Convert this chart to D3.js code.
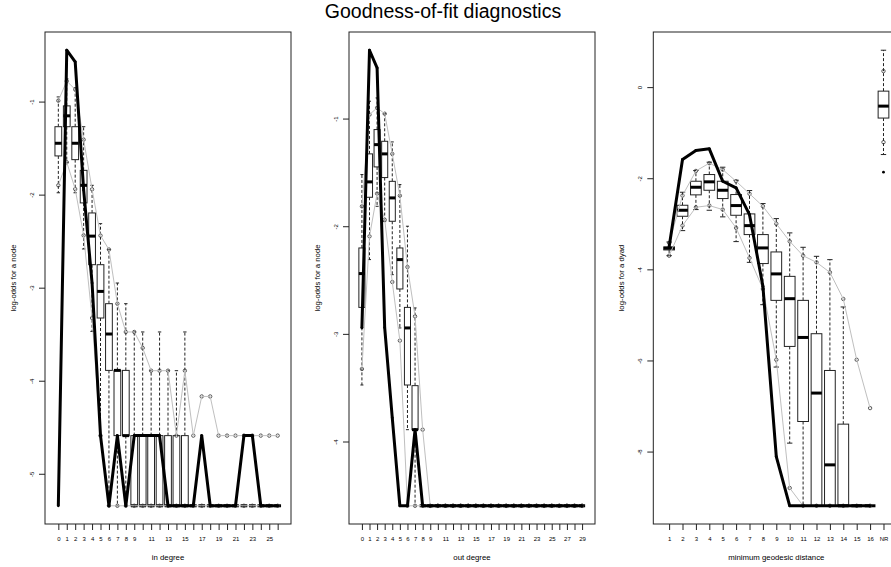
<!DOCTYPE html>
<html lang="en">
<head>
<meta charset="UTF-8">
<title>Goodness-of-fit diagnostics</title>
<script src="https://d3js.org/d3.v7.min.js"></script>
<style>
    body, html { margin: 0; padding: 0; background: #fff; }
    svg { display: block; }
    svg text { font-family: "Liberation Sans", Arial, sans-serif; fill: #000; }
    .tick text { font-size: 6px; }
    .tick line { stroke: #222; }
    .frame { fill: none; stroke: #222; stroke-width: 1; }
    .whisker { stroke: #222; stroke-width: 1; stroke-dasharray: 3,2; }
    .staple { stroke: #222; stroke-width: 1; }
    .box { fill: #fff; stroke: #222; stroke-width: 1; }
    .median { stroke: #000; stroke-width: 3; }
    .grey { fill: none; stroke: #bfbfbf; stroke-width: 1; }
    .qpt { fill: none; stroke: #333; stroke-width: 0.8; }
    .obs { fill: none; stroke: #000; stroke-width: 3; stroke-linejoin: round; }
    .obspt { fill: #000; }
    .axis-title { font-size: 7.8px; }
</style>
</head>
<body>
<div id="chart"></div>
<script>
// ---- in degree (0..26) ----
const inDegTicks = ['0','1','2','3','4','5','6','7','8','9','','11','','13','','15','','17','','19','','21','','23','','25',''];
const inQ3 = [-1.27, -1.046, -1.27, -1.739, -2.197, -2.753, -3.172, -3.889, -3.889, -4.59, -4.59, -4.59, -4.59, -4.59, -4.59, -4.59,
    -5.344, -5.344, -5.344, -5.344, -5.344, -5.344, -5.344, -5.344, -5.344, -5.344, -5.344];
const inMed = [-1.448, -1.153, -1.448, -1.90, -2.446, -3.04, -3.498, -3.889, -4.59,
    -5.344, -5.344, -5.344, -5.344, -5.344, -5.344, -5.344, -5.344, -5.344, -5.344, -5.344, -5.344, -5.344, -5.344, -5.344, -5.344, -5.344, -5.344];
const inQ1 = [-1.584, -1.27, -1.624, -2.089, -2.753, -3.326, -3.889, -4.59, -4.59,
    -5.344, -5.344, -5.344, -5.344, -5.344, -5.344, -5.344, -5.344, -5.344, -5.344, -5.344, -5.344, -5.344, -5.344, -5.344, -5.344, -5.344, -5.344];
const inWhHi = [-0.95, -0.756, -0.853, -1.27, -1.90, -2.312, -2.59, -2.95, -3.172, -3.476, -3.476, -3.892, -3.476, -3.892, -3.892, -3.476,
    -5.344, -5.344, -5.344, -5.344, -5.344, -5.344, -5.344, -5.344, -5.344, -5.344, -5.344];
const inWhLo = [-1.98, -1.656, -1.98, -2.584, -3.47, -4.59,
    -5.344, -5.344, -5.344, -5.344, -5.344, -5.344, -5.344, -5.344, -5.344, -5.344, -5.344, -5.344, -5.344, -5.344, -5.344, -5.344, -5.344, -5.344, -5.344, -5.344, -5.344];
const inGreyHi = [-0.99, -0.78, -0.87, -1.409, -1.943, -2.44, -2.59, -3.172, -3.476, -3.476, -3.648, -3.892, -3.892, -3.892, -4.59, -3.892,
    -4.59, -4.169, -4.169, -4.59, -4.59, -4.59, -4.59, -4.59, -4.59, -4.59, -4.59];
const inGreyLo = [-1.90, -1.652, -1.94, -2.438, -3.326, -4.59,
    -5.344, -5.344, -5.344, -5.344, -5.344, -5.344, -5.344, -5.344, -5.344, -5.344, -5.344, -5.344, -5.344, -5.344, -5.344, -5.344, -5.344, -5.344, -5.344, -5.344, -5.344];
const inObs = [-5.344, -0.448, -0.573, -1.95, -2.95, -4.59, -5.344, -4.59, -5.344, -4.59, -4.59, -4.59, -4.59, -5.344, -5.344, -5.344,
    -5.344, -4.59, -5.344, -5.344, -5.344, -5.344, -4.59, -4.59, -5.344, -5.344, -5.344];

// ---- out degree (0..29) ----
const outDegTicks = ['0','1','2','3','4','5','6','7','8','9','','11','','13','','15','','17','','19','','21','','23','','25','','27','','29'];
const outQ3 = [-2.202, -1.328, -1.102, -1.211, -1.583, -2.202, -2.754, -3.481,
    -4.597, -4.597, -4.597, -4.597, -4.597, -4.597, -4.597, -4.597, -4.597, -4.597, -4.597, -4.597, -4.597, -4.597, -4.597, -4.597, -4.597, -4.597, -4.597, -4.597, -4.597, -4.597];
const outMed = [-2.44, -1.588, -1.242, -1.328, -1.737, -2.31, -2.945, -3.89,
    -4.597, -4.597, -4.597, -4.597, -4.597, -4.597, -4.597, -4.597, -4.597, -4.597, -4.597, -4.597, -4.597, -4.597, -4.597, -4.597, -4.597, -4.597, -4.597, -4.597, -4.597, -4.597];
const outQ1 = [-2.754, -1.731, -1.449, -1.548, -1.954, -2.583, -3.475, -3.89,
    -4.597, -4.597, -4.597, -4.597, -4.597, -4.597, -4.597, -4.597, -4.597, -4.597, -4.597, -4.597, -4.597, -4.597, -4.597, -4.597, -4.597, -4.597, -4.597, -4.597, -4.597, -4.597];
const outWhHi = [-1.52, -0.839, -0.808, -0.955, -1.217, -1.613, -2.0, -2.759,
    -4.597, -4.597, -4.597, -4.597, -4.597, -4.597, -4.597, -4.597, -4.597, -4.597, -4.597, -4.597, -4.597, -4.597, -4.597, -4.597, -4.597, -4.597, -4.597, -4.597, -4.597, -4.597];
const outWhLo = [-3.475, -2.31, -1.815, -1.957, -2.45, -2.945, -3.89,
    -4.597, -4.597, -4.597, -4.597, -4.597, -4.597, -4.597, -4.597, -4.597, -4.597, -4.597, -4.597, -4.597, -4.597, -4.597, -4.597, -4.597, -4.597, -4.597, -4.597, -4.597, -4.597, -4.597, -4.597];
const outGreyHi = [-1.815, -0.963, -0.90, -0.955, -1.328, -1.716, -2.379, -2.837, -3.89,
    -4.597, -4.597, -4.597, -4.597, -4.597, -4.597, -4.597, -4.597, -4.597, -4.597, -4.597, -4.597, -4.597, -4.597, -4.597, -4.597, -4.597, -4.597, -4.597, -4.597, -4.597];
const outGreyLo = [-3.326, -2.094, -1.697, -1.94, -2.518, -3.063,
    -4.597, -4.597, -4.597, -4.597, -4.597, -4.597, -4.597, -4.597, -4.597, -4.597, -4.597, -4.597, -4.597, -4.597, -4.597, -4.597, -4.597, -4.597, -4.597, -4.597, -4.597, -4.597, -4.597, -4.597];
const outObs = [-2.945, -0.365, -0.529, -2.942, -3.78, -4.597, -4.597, -3.89,
    -4.597, -4.597, -4.597, -4.597, -4.597, -4.597, -4.597, -4.597, -4.597, -4.597, -4.597, -4.597, -4.597, -4.597, -4.597, -4.597, -4.597, -4.597, -4.597, -4.597, -4.597, -4.597];

// ---- minimum geodesic distance (1..16, NR) ----
const distTicks = ['1','2','3','4','5','6','7','8','9','10','11','12','13','14','15','16','NR'];
const distQ3 = [-3.508, -2.593, -2.066, -1.919, -2.066, -2.358, -2.783, -3.237, -3.618, -4.154, -4.681, -5.413, -6.22, -7.398, -9.19, -9.19, -0.088];
const distMed = [-3.536, -2.703, -2.198, -2.079, -2.264, -2.6, -3.04, -3.53, -4.1, -4.644, -5.495, -6.716, -8.292, -9.19, -9.19, -9.19, -0.417];
const distQ1 = [-3.574, -2.835, -2.365, -2.264, -2.446, -2.813, -3.237, -3.873, -4.681, -5.692, -7.34, -9.19, -9.19, -9.19, -9.19, -9.19, -0.679];
const distWhHi = [-3.40, -2.308, -1.83, -1.648, -1.758, -2.044, -2.27, -2.556, -2.886, -3.2, -3.516, -3.714, -3.787, -4.826, -9.19, -9.19, 0.81];
const distWhLo = [-3.70, -3.15, -2.688, -2.703, -2.848, -3.391, -3.846, -4.776, -6.145, -7.815, -9.19, -9.19, -9.19, -9.19, -9.19, -9.19, -1.48];
const distGreyHi = [-3.42, -2.38, -1.84, -1.67, -1.81, -2.066, -2.34, -2.615, -3.0, -3.385, -3.7, -3.846, -4.066, -4.65, -5.985, -7.046, 0.352];
const distGreyLo = [-3.70, -3.04, -2.637, -2.6, -2.688, -3.09, -3.75, -4.43, -5.985, -8.8, -9.19, -9.19, -9.19, -9.19, -9.19, -9.19, -1.209];
const distObs = [-3.51, -1.589, -1.391, -1.354, -2.066, -2.211, -2.8, -4.37, -8.11, -9.19, -9.19, -9.19, -9.19, -9.19, -9.19, -9.19, -1.868];

const panels = [
    { ticks: inDegTicks, q1: inQ1, q3: inQ3, med: inMed, whHi: inWhHi, whLo: inWhLo, greyHi: inGreyHi, greyLo: inGreyLo, obs: inObs,
      yTicks: [-1, -2, -3, -4, -5], xTitle: 'in degree', yTitle: 'log-odds for a node', lineCount: 27 },
    { ticks: outDegTicks, q1: outQ1, q3: outQ3, med: outMed, whHi: outWhHi, whLo: outWhLo, greyHi: outGreyHi, greyLo: outGreyLo, obs: outObs,
      yTicks: [-1, -2, -3, -4], xTitle: 'out degree', yTitle: 'log-odds for a node', lineCount: 30 },
    { ticks: distTicks, q1: distQ1, q3: distQ3, med: distMed, whHi: distWhHi, whLo: distWhLo, greyHi: distGreyHi, greyLo: distGreyLo, obs: distObs,
      yTicks: [0, -2, -4, -6, -8], xTitle: 'minimum geodesic distance', yTitle: 'log-odds for a dyad', lineCount: 16 }
];

const W = 891, H = 567;
const PANEL_W = 246, TOP = 32, BOTTOM = 524;
const panelLeft = [45, 349, 653.3];

const svg = d3.select('#chart').append('svg')
    .attr('width', W)
    .attr('height', H);

svg.append('text')
    .attr('x', 443)
    .attr('y', 18)
    .attr('text-anchor', 'middle')
    .style('font-size', '19.5px')
    .text('Goodness-of-fit diagnostics');

function drawPanel(p, left) {
    const n = p.ticks.length;
    const g = svg.append('g');

    // R style: positions 1..n, xlim 0.5..n+0.5 widened 4%
    const x = d3.scaleLinear()
        .domain([0.5 - 0.04 * n, n + 0.5 + 0.04 * n])
        .range([left, left + PANEL_W]);
    const vals = [].concat(p.q1, p.q3, p.med, p.whHi, p.whLo, p.greyHi, p.greyLo, p.obs);
    const ext = d3.extent(vals);
    const pad = (ext[1] - ext[0]) * 0.04;
    const y = d3.scaleLinear()
        .domain([ext[0] - pad, ext[1] + pad])
        .range([BOTTOM, TOP]);

    const pos = d3.range(1, n + 1);
    const bw = (x(2) - x(1)) * 0.8;

    // boxplots
    const bx = g.selectAll('.bx').data(pos).enter().append('g').attr('class', 'bx');
    bx.append('line').attr('class', 'whisker')
        .attr('x1', d => x(d)).attr('x2', d => x(d))
        .attr('y1', d => y(p.q3[d - 1])).attr('y2', d => y(p.whHi[d - 1]));
    bx.append('line').attr('class', 'whisker')
        .attr('x1', d => x(d)).attr('x2', d => x(d))
        .attr('y1', d => y(p.q1[d - 1])).attr('y2', d => y(p.whLo[d - 1]));
    bx.append('line').attr('class', 'staple')
        .attr('x1', d => x(d) - bw / 4).attr('x2', d => x(d) + bw / 4)
        .attr('y1', d => y(p.whHi[d - 1])).attr('y2', d => y(p.whHi[d - 1]));
    bx.append('line').attr('class', 'staple')
        .attr('x1', d => x(d) - bw / 4).attr('x2', d => x(d) + bw / 4)
        .attr('y1', d => y(p.whLo[d - 1])).attr('y2', d => y(p.whLo[d - 1]));
    bx.append('rect').attr('class', 'box')
        .attr('x', d => x(d) - bw / 2)
        .attr('width', bw)
        .attr('y', d => y(p.q3[d - 1]))
        .attr('height', d => y(p.q1[d - 1]) - y(p.q3[d - 1]));
    bx.append('line').attr('class', 'median')
        .attr('x1', d => x(d) - bw / 2).attr('x2', d => x(d) + bw / 2)
        .attr('y1', d => y(p.med[d - 1])).attr('y2', d => y(p.med[d - 1]));

    // simulation quantile lines and points
    const linePos = pos.slice(0, p.lineCount);
    const qline = arr => d3.line().x(d => x(d)).y(d => y(arr[d - 1]))(linePos);
    [p.greyLo, p.greyHi].forEach(arr => {
        g.selectAll(null).data(pos).enter().append('circle')
            .attr('class', 'qpt')
            .attr('cx', d => x(d)).attr('cy', d => y(arr[d - 1]))
            .attr('r', 1.7);
        g.append('path').attr('class', 'grey').attr('d', qline(arr));
    });

    // observed
    g.selectAll(null).data(pos).enter().append('circle')
        .attr('class', 'obspt')
        .attr('cx', d => x(d)).attr('cy', d => y(p.obs[d - 1]))
        .attr('r', 1.4);
    g.append('path').attr('class', 'obs').attr('d', qline(p.obs));

    // frame
    g.append('rect').attr('class', 'frame')
        .attr('x', left).attr('y', TOP)
        .attr('width', PANEL_W).attr('height', BOTTOM - TOP);

    // axes
    const xAxis = d3.axisBottom(x).tickValues(pos).tickSize(6).tickFormat(d => p.ticks[d - 1]);
    g.append('g')
        .attr('transform', `translate(0,${BOTTOM})`)
        .call(xAxis)
        .call(a => a.select('.domain').remove())
        .selectAll('text').attr('y', 13);

    const yAxis = d3.axisLeft(y).tickValues(p.yTicks).tickSize(6).tickFormat(d => String(d));
    g.append('g')
        .attr('transform', `translate(${left},0)`)
        .call(yAxis)
        .call(a => a.select('.domain').remove())
        .selectAll('text')
        .attr('x', null)
        .attr('text-anchor', 'middle')
        .attr('dy', '0.35em')
        .attr('transform', 'translate(-13,0) rotate(-90)');

    g.append('text').attr('class', 'axis-title')
        .attr('x', left + PANEL_W / 2)
        .attr('y', 559.5)
        .attr('text-anchor', 'middle')
        .text(p.xTitle);
    g.append('text').attr('class', 'axis-title')
        .attr('transform', `translate(${left - 32},${(TOP + BOTTOM) / 2}) rotate(-90)`)
        .attr('text-anchor', 'middle')
        .attr('dy', '0.35em')
        .text(p.yTitle);
}

panels.forEach((p, i) => drawPanel(p, panelLeft[i]));
</script>
</body>
</html>
